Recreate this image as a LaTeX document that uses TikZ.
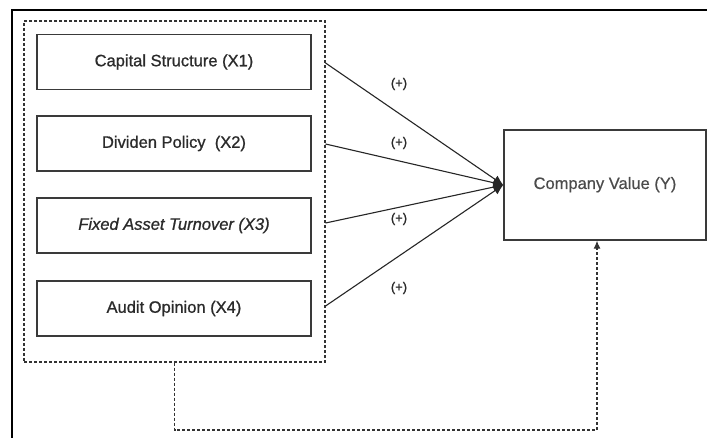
\documentclass[tikz,border=0pt]{standalone}
\usepackage{fontspec}
\setmainfont{Liberation Sans}
\newfontfamily\medfont[FakeBold=0.9]{Liberation Sans}
\newfontfamily\lightmed[FakeBold=0.5]{Liberation Sans}
\usetikzlibrary{arrows.meta}
\definecolor{txt}{HTML}{2B2B2B}
\definecolor{edge}{HTML}{3A3A3A}
\begin{document}
\begin{tikzpicture}[x=1pt,y=-1pt,
  varbox/.style={draw=edge,line width=1.4pt,minimum width=274pt,minimum height=55pt,inner sep=0pt,
    font=\medfont\fontsize{16.5}{19}\selectfont,text=txt},
  grpbox/.style={draw=black!80,dashed,dash pattern=on 3pt off 2pt,line width=1.1pt,minimum width=301pt,minimum height=341pt,inner sep=0pt},
  ybox/.style={draw=edge,line width=1.4pt,minimum width=202pt,minimum height=110pt,inner sep=0pt,
    font=\lightmed\fontsize{16.5}{19}\selectfont,text=txt!85},
  plus/.style={font=\medfont\fontsize{13}{15}\selectfont,text=txt},
  conn/.style={draw=black!85,line width=1.1pt,-{Latex[length=10pt,width=9pt]}},
  fb/.style={draw=black!80,dash pattern=on 3pt off 2pt,line width=1.1pt,-{Latex[length=8pt,width=7pt]}}
]
\useasboundingbox (0,0) rectangle (707,438);
\fill[white] (0,0) rectangle (707,438);
\draw[line width=2.2pt,black] (12,438) -- (12,10) -- (707,10);

\node[grpbox] (grp) at (174.5,191.5) {};
\node[varbox] (b1) at (174,62) {Capital Structure (X1)};
\node[varbox] (b2) at (174,143.5) {Dividen Policy\ \ (X2)};
\node[varbox] (b3) at (174,225.5) {\itshape Fixed Asset Turnover (X3)};
\node[varbox] (b4) at (174,308.5) {Audit Opinion (X4)};
\node[ybox] (y) at (605,185) {\raisebox{4pt}{Company Value (Y)}};

\draw[conn] (grp.east |- 0,63) -- (y.west);
\draw[conn] (grp.east |- 0,144) -- (y.west);
\draw[conn] (grp.east |- 0,223) -- (y.west);
\draw[conn] (grp.east |- 0,306) -- (y.west);

\node[plus] (p1) at (399,84) {(+)};
\node[plus] (p2) at (399,143) {(+)};
\node[plus] (p3) at (399,219) {(+)};
\node[plus] (p4) at (399,288) {(+)};

\coordinate (fbc) at (597,430);
\draw[fb] (grp.south) |- (fbc) -- (fbc |- y.south);
\end{tikzpicture}
\end{document}
